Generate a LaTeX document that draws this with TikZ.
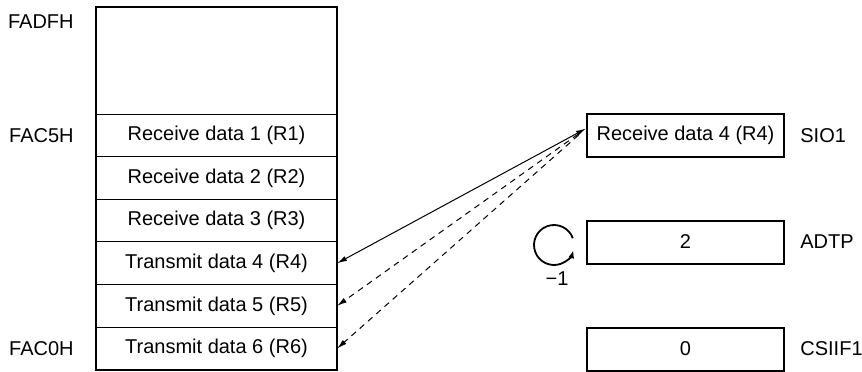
\documentclass[tikz,border=0pt]{standalone}
\usepackage{fontspec}
\setmainfont{Liberation Sans}
\usetikzlibrary{arrows.meta, positioning, fit}

\begin{document}
\begin{tikzpicture}[
    x=0.5pt, y=-0.5pt,
    node distance=0pt,
    every node/.style={font=\fontsize{10}{12}\selectfont},
    cell/.style={rectangle, draw, line width=0.5pt, minimum width=120.5pt, minimum height=21.33pt, inner sep=0pt, outer sep=0pt, align=center},
    reg/.style={rectangle, draw, line width=1pt, minimum width=98.5pt, minimum height=21.5pt, inner sep=0pt, align=center},
    addr/.style={anchor=east, inner sep=0pt},
    regname/.style={inner sep=0pt},
    arrow/.style={-{Latex[length=5pt, width=2.6pt]}, line width=0.5pt},
    link/.style={{Latex[length=5pt, width=2.6pt]}-{Latex[length=5pt, width=2.6pt]}, line width=0.5pt},
    dasharrow/.style={arrow, dash pattern=on 3pt off 2.5pt}
]
\useasboundingbox (0,0) rectangle (862,371);

% Buffer RAM
\node[cell, minimum height=53.5pt] (free) at (216.5,60.5) {};
\node[cell, below=of free] (r1) {Receive data 1 (R1)};
\node[cell, below=of r1] (r2) {Receive data 2 (R2)};
\node[cell, below=of r2] (r3) {Receive data 3 (R3)};
\node[cell, below=of r3] (r4) {Transmit data 4 (R4)};
\node[cell, below=of r4] (r5) {Transmit data 5 (R5)};
\node[cell, below=of r5] (r6) {Transmit data 6 (R6)};
\node[draw, line width=1pt, inner sep=0pt, fit=(free)(r6)] (buf) {};

% Addresses
\node[addr] (adrtop) at (74,22) {FADFH};
\node[addr, left=11pt of r1] (adr1) {FAC5H};
\node[addr, left=11pt of r6] (adr6) {FAC0H};

% Registers
\node[reg] (sio) at (685.5,135.5) {Receive data 4 (R4)};
\node[reg] (adtp) at (685.5,242) {2};
\node[reg] (csiif) at (685.5,349) {0};

\node[regname, right=7.5pt of sio] (sioname) {SIO1};
\node[regname, right=7.5pt of adtp] (adtpname) {ADTP};
\node[regname, right=7.5pt of csiif] (csiifname) {CSIIF1};

% Decrement
\coordinate (loop) at (554,245);
\draw[-{Latex[length=4pt, width=3pt]}, line width=0.9pt] ([shift={(20:10pt)}]loop) arc[start angle=20, end angle=345, radius=10pt];
\node (dec) at (557,279) {−1};

% Transfers
\coordinate (sioin) at ([yshift=3.5pt]sio.west);
\draw[link] (r4.east) -- (sioin);
\draw[dasharrow, shorten <=5pt] (sioin) -- (r5.east);
\draw[dasharrow, shorten <=5pt] (sioin) -- (r6.east);

\end{tikzpicture}
\end{document}
